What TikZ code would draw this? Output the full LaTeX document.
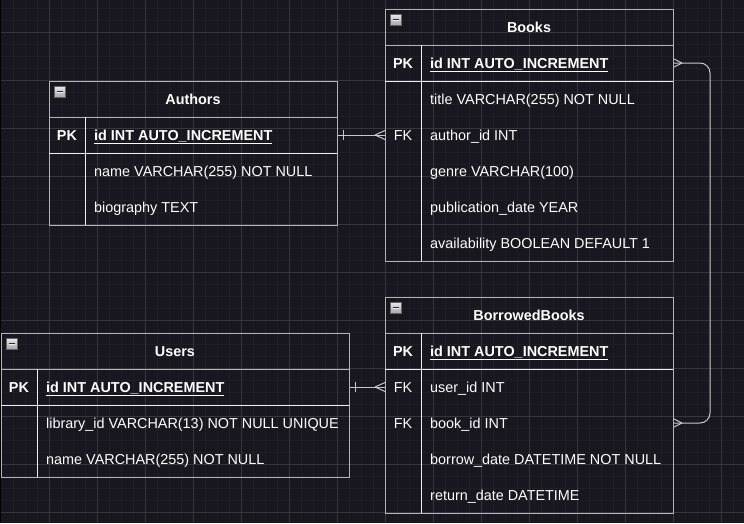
\documentclass[tikz,border=0pt]{standalone}
\usepackage{fontspec}
\setmainfont{Liberation Sans}
\definecolor{canvas}{HTML}{18161E}
\definecolor{gridminor}{HTML}{201D27}
\definecolor{gridmajor}{HTML}{37363C}
\definecolor{edge}{HTML}{B4B4B4}
\definecolor{rule}{HTML}{EEEEEE}
\definecolor{link}{HTML}{C8C8C8}
\tikzset{
  entity/.style={draw=edge, line width=1pt, inner sep=0pt, anchor=north west},
  sep/.style={draw=edge, line width=1pt},
  keyrule/.style={draw=rule, line width=1pt},
  txt/.style={text=white, inner sep=0pt, text height=10.3pt, text depth=0pt,
    font=\fontsize{14.4}{17}\selectfont},
  title/.style={txt, font=\fontsize{14.4}{17}\selectfont\bfseries},
  keyname/.style={txt},
  pkname/.style={title},
  field/.style={txt, anchor=west},
  pkfield/.style={field, font=\fontsize{14.4}{17}\selectfont\bfseries},
  icon/.style={draw=gray!80!black, line width=0.6pt, inner sep=0pt, minimum size=10.5pt,
    top color=gray!20, bottom color=gray!70,
    path picture={\draw[line width=2.6pt, gray!35!black]
      ([xshift=2pt]path picture bounding box.west) -- ([xshift=-2pt]path picture bounding box.east);
      \draw[line width=1pt, gray!15]
      ([xshift=2.5pt]path picture bounding box.west) -- ([xshift=-2.5pt]path picture bounding box.east);}},
  link/.style={draw=link, line width=1pt},
}
\begin{document}
\begin{tikzpicture}[x=1pt,y=-1pt]
\useasboundingbox (0,0) rectangle (744,523);
% canvas and grid
\fill[canvas] (0,0) rectangle (744,523);
\foreach \x in {13,25,...,744} \draw[gridminor,line width=0.8pt] (\x,0) -- (\x,523);
\foreach \y in {8,20,...,523} \draw[gridminor,line width=0.8pt] (0,\y) -- (744,\y);
\foreach \x in {49,97,...,744} \draw[gridmajor,line width=0.8pt] (\x,0) -- (\x,523);
\foreach \y in {32,80,...,523} \draw[gridmajor,line width=0.8pt] (0,\y) -- (744,\y);
\fill[black] (0,0) rectangle (1.2,523);

% Books
\node[entity, minimum width=288pt, minimum height=252pt] (books) at (385,9) {};
\draw[sep] (385,45) -- (673,45);
\draw[keyrule] (385,81) -- (673,81);
\draw[keyrule] (421,45) -- (421,261);
\node[icon] at (396,20) {};
\node[title] at (529,27) {Books};
\node[pkname] at (403,63) {PK};
\node[pkfield] (books-id) at (430,63) {\underline{id INT AUTO\_INCREMENT}};
\node[keyname] at (403,135) {FK};
\foreach \y/\n/\t in {99/title/{title VARCHAR(255) NOT NULL},
    135/author/{author\_id INT},
    171/genre/{genre VARCHAR(100)},
    207/pub/{publication\_date YEAR},
    243/avail/{availability BOOLEAN DEFAULT 1}}
  \node[field] (books-\n) at (430,\y) {\t};

% Authors
\node[entity, minimum width=288pt, minimum height=144pt] (authors) at (49,81) {};
\draw[sep] (49,117) -- (337,117);
\draw[keyrule] (49,153) -- (337,153);
\draw[keyrule] (85,117) -- (85,225);
\node[icon] at (60,92) {};
\node[title] at (193,99) {Authors};
\node[pkname] at (67,135) {PK};
\node[pkfield] (authors-id) at (94,135) {\underline{id INT AUTO\_INCREMENT}};
\foreach \y/\n/\t in {171/name/{name VARCHAR(255) NOT NULL},
    207/bio/{biography TEXT}}
  \node[field] (authors-\n) at (94,\y) {\t};

% Users
\node[entity, minimum width=348pt, minimum height=144pt] (users) at (1,333) {};
\draw[sep] (1,369) -- (349,369);
\draw[keyrule] (1,405) -- (349,405);
\draw[keyrule] (37,369) -- (37,477);
\node[icon] at (12,344) {};
\node[title] at (175,351) {Users};
\node[pkname] at (19,387) {PK};
\node[pkfield] (users-id) at (46,387) {\underline{id INT AUTO\_INCREMENT}};
\foreach \y/\n/\t in {423/lib/{library\_id VARCHAR(13) NOT NULL UNIQUE},
    459/name/{name VARCHAR(255) NOT NULL}}
  \node[field] (users-\n) at (46,\y) {\t};

% BorrowedBooks
\node[entity, minimum width=288pt, minimum height=216pt] (borrowed) at (385,297) {};
\draw[sep] (385,333) -- (673,333);
\draw[keyrule] (385,369) -- (673,369);
\draw[keyrule] (421,333) -- (421,513);
\node[icon] at (396,308) {};
\node[title] at (529,315) {BorrowedBooks};
\node[pkname] at (403,351) {PK};
\node[pkfield] (borrowed-id) at (430,351) {\underline{id INT AUTO\_INCREMENT}};
\node[keyname] at (403,387) {FK};
\node[keyname] at (403,423) {FK};
\foreach \y/\n/\t in {387/user/{user\_id INT},
    423/book/{book\_id INT},
    459/borrow/{borrow\_date DATETIME NOT NULL},
    495/return/{return\_date DATETIME}}
  \node[field] (borrowed-\n) at (430,\y) {\t};

% relations
\coordinate (au-out) at (authors.east |- authors-id);
\coordinate (bk-in) at (books.west |- books-author);
\draw[link] (au-out) -- (bk-in);
\draw[link] ([xshift=5pt,yshift=5pt]au-out) -- ([xshift=5pt,yshift=-5pt]au-out);
\draw[link] ([xshift=-10pt]bk-in) -- ([yshift=4.5pt]bk-in) ([xshift=-10pt]bk-in) -- ([yshift=-4.5pt]bk-in);

\coordinate (us-out) at (users.east |- users-id);
\coordinate (bb-user) at (borrowed.west |- borrowed-user);
\draw[link] (us-out) -- (bb-user);
\draw[link] ([xshift=5pt,yshift=5pt]us-out) -- ([xshift=5pt,yshift=-5pt]us-out);
\draw[link] ([xshift=-10pt]bb-user) -- ([yshift=4.5pt]bb-user) ([xshift=-10pt]bb-user) -- ([yshift=-4.5pt]bb-user);

\coordinate (bk-out) at (books.east |- books-id);
\coordinate (bb-book) at (borrowed.east |- borrowed-book);
\draw[link, rounded corners=10pt] (bk-out) -- ([xshift=36pt]bk-out) |- (bb-book);
\draw[link] ([xshift=8pt]bk-out) -- ([yshift=4pt]bk-out) ([xshift=8pt]bk-out) -- ([yshift=-4pt]bk-out);
\draw[link] ([xshift=8pt]bb-book) -- ([yshift=4pt]bb-book) ([xshift=8pt]bb-book) -- ([yshift=-4pt]bb-book);
\end{tikzpicture}
\end{document}
